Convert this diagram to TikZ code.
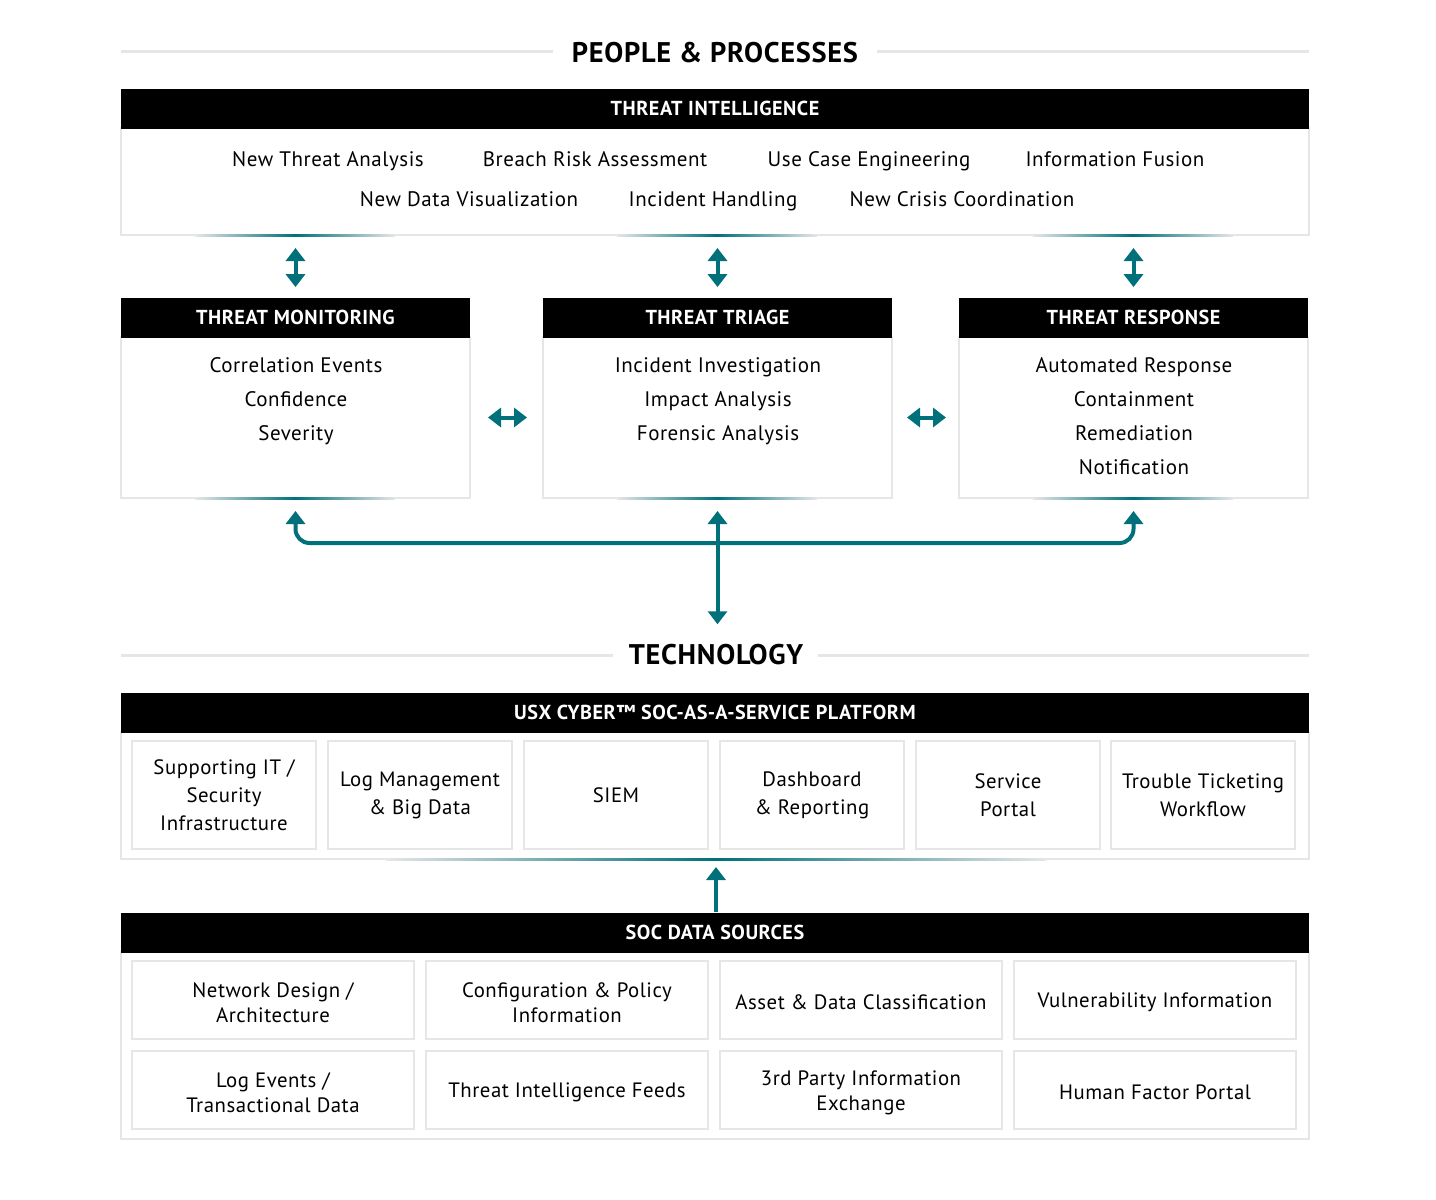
\documentclass[tikz,border=0pt]{standalone}
\usepackage{fontspec}
\setmainfont{PT Sans}[LetterSpace=2.5]
\usetikzlibrary{arrows.meta}
\definecolor{tealc}{HTML}{00707A}
\definecolor{lgray}{HTML}{E6E6E6}
\newcommand\tglow[3]{%
  \shade[left color=lgray,right color=tealc] ({#1-#3},{#2-1}) rectangle (#1,{#2+1});
  \shade[left color=tealc,right color=lgray] (#1,{#2-1}) rectangle ({#1+#3},{#2+1});}
\newcommand\dn[1]{\raisebox{-1.2pt}[\height][\depth]{\parbox{135pt}{\centering\fontsize{10.4}{12.5}\selectfont #1}}}
\begin{document}
\begin{tikzpicture}[x=0.5pt,y=-0.5pt,
  hdr/.style={fill=black,text=white,font=\bfseries\fontsize{10.1}{12}\selectfont,inner sep=0pt,minimum height=20pt},
  body/.style={draw=lgray,line width=1pt,fill=white,inner sep=0pt},
  cell/.style={draw=lgray,line width=1pt,inner sep=0pt,align=center,font=\fontsize{10.4}{14}\selectfont},
  item/.style={font=\fontsize{10.5}{12}\selectfont,inner sep=0pt},
  lst/.style={font=\fontsize{10.5}{17}\selectfont,align=center,inner sep=0pt},
  ttl/.style={font=\bfseries\fontsize{14.2}{17}\selectfont,inner sep=0pt},
  rule/.style={draw=lgray,line width=1.5pt},
  conn/.style={draw=tealc,line width=2pt,{Triangle[width=9.5pt,length=6.5pt]}-{Triangle[width=9.5pt,length=6.5pt]}},
  conn1/.style={draw=tealc,line width=2pt,-{Triangle[width=9.5pt,length=6.5pt]}},
]
\useasboundingbox (0,0) rectangle (1436,1200);

% ---------- PEOPLE & PROCESSES ----------
\node[ttl] (ppl) at (715,53) {PEOPLE \& PROCESSES};
\draw[rule] (121,51) -- (553,51);
\draw[rule] (877,51) -- (1309,51);

% Threat intelligence
\node[body,minimum width=594pt,minimum height=53.5pt] (tibody) at (715,181.5) {};
\node[hdr,minimum width=594pt] (tihdr) at (715,108.5) {THREAT INTELLIGENCE};
\node[item,anchor=base] (i1) at (328,166) {New Threat Analysis};
\node[item,anchor=base] (i2) at (595,166) {Breach Risk Assessment};
\node[item,anchor=base] (i3) at (869,166) {Use Case Engineering};
\node[item,anchor=base] (i4) at (1115,166) {Information Fusion};
\node[item,anchor=base] (i5) at (469,206) {New Data Visualization};
\node[item,anchor=base] (i6) at (713,206) {Incident Handling};
\node[item,anchor=base] (i7) at (962,206) {New Crisis Coordination};
\tglow{295}{235}{100}
\tglow{717}{235}{100}
\tglow{1133}{235}{100}

% Three boxes
\node[body,minimum width=174.5pt,minimum height=80.5pt] (mbody) at (295.5,417.5) {};
\node[body,minimum width=174.5pt,minimum height=80.5pt] (tbody) at (717.5,417.5) {};
\node[body,minimum width=174.5pt,minimum height=80.5pt] (rbody) at (1133.5,417.5) {};
\node[hdr,minimum width=174.5pt] (mhdr) at (295.5,317.5) {THREAT MONITORING};
\node[hdr,minimum width=174.5pt] (thdr) at (717.5,317.5) {THREAT TRIAGE};
\node[hdr,minimum width=174.5pt] (rhdr) at (1133.5,317.5) {THREAT RESPONSE};
\node[lst] (mlst) at (296,401) {Correlation Events\\Confidence\\Severity};
\node[lst] (tlst) at (718,401) {Incident Investigation\\Impact Analysis\\Forensic Analysis};
\node[lst] (rlst) at (1134,416.5) {Automated Response\\Containment\\Remediation\\Notification};
\tglow{295}{498}{100}
\tglow{717}{498}{100}
\tglow{1133}{498}{100}

% vertical double arrows
\draw[conn,shorten <=6pt,shorten >=5pt] (tibody.south -| mhdr.north) -- (mhdr.north);
\draw[conn,shorten <=6pt,shorten >=5pt] (tibody.south -| thdr.north) -- (thdr.north);
\draw[conn,shorten <=6pt,shorten >=5pt] (tibody.south -| rhdr.north) -- (rhdr.north);
% horizontal double arrows
\draw[conn,shorten <=8.5pt,shorten >=7.5pt] (mbody.east) -- (tbody.west);
\draw[conn,shorten <=7pt,shorten >=6pt] (tbody.east) -- (rbody.west);

% ---------- TECHNOLOGY ----------
\node[ttl] (tech) at (716,655) {TECHNOLOGY};
\draw[rule] (121,655) -- (613,655);
\draw[rule] (818,655) -- (1309,655);

% bottom connector
\draw[conn,rounded corners=7pt,shorten <=6pt,shorten >=6pt]
  (mbody.south) -- (295.5,543) -- (1133.5,543) -- (rbody.south);
\draw[conn,shorten <=6pt,shorten >=10pt] (tbody.south) -- (tech.north -| tbody.south);

% Platform
\node[body,minimum width=594pt,minimum height=63.5pt] (pbody) at (715,795.5) {};
\node[hdr,minimum width=594pt] (phdr) at (715,712.5) {USX CYBER™ SOC-AS-A-SERVICE PLATFORM};
\node[cell,minimum width=92pt,minimum height=54pt] (p1) at (224,795) {Supporting IT /\\Security\\Infrastructure};
\node[cell,minimum width=92pt,minimum height=54pt] (p2) at (420,795) {Log Management\\\& Big Data};
\node[cell,minimum width=92pt,minimum height=54pt] (p3) at (616,795) {SIEM};
\node[cell,minimum width=92pt,minimum height=54pt] (p4) at (812,795) {Dashboard\\\& Reporting};
\node[cell,minimum width=92pt,minimum height=54pt] (p5) at (1008,795) {Service\\Portal};
\node[cell,minimum width=92pt,minimum height=54pt] (p6) at (1203,795) {Trouble Ticketing\\Workflow};
\tglow{716}{859}{330}

% SOC data sources
\node[body,minimum width=594pt,minimum height=93.5pt] (sbody) at (715,1045.5) {};
\node[hdr,minimum width=594pt] (shdr) at (715,932.5) {SOC DATA SOURCES};
\node[cell,minimum width=141pt,minimum height=39pt] (s1) at (273,1000) {\dn{Network Design /\\Architecture}};
\node[cell,minimum width=141pt,minimum height=39pt] (s2) at (567,1000) {\dn{Configuration \& Policy\\Information}};
\node[cell,minimum width=141pt,minimum height=39pt] (s3) at (861,1000) {\dn{Asset \& Data Classification}};
\node[cell,minimum width=141pt,minimum height=39pt] (s4) at (1155,1000) {\dn{Vulnerability Information}};
\node[cell,minimum width=141pt,minimum height=39pt] (s5) at (273,1090) {\dn{Log Events /\\Transactional Data}};
\node[cell,minimum width=141pt,minimum height=39pt] (s6) at (567,1090) {\dn{Threat Intelligence Feeds}};
\node[cell,minimum width=141pt,minimum height=39pt] (s7) at (861,1090) {\dn{3rd Party Information\\Exchange}};
\node[cell,minimum width=141pt,minimum height=39pt] (s8) at (1155,1090) {\dn{Human Factor Portal}};

\draw[conn1,shorten >=3.5pt] (shdr.north -| 716,0) -- (pbody.south -| 716,0);
\end{tikzpicture}
\end{document}
